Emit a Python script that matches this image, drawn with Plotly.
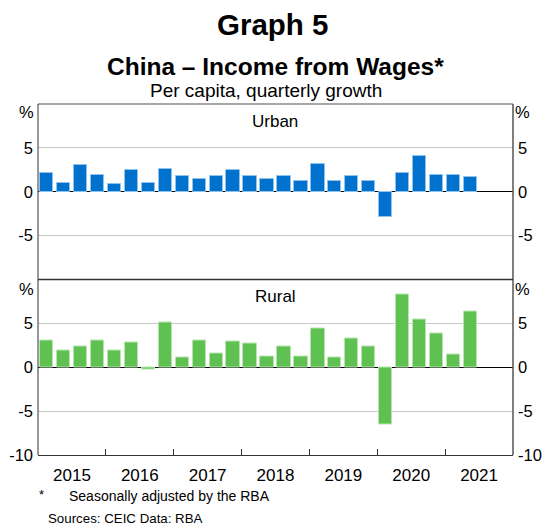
import plotly.graph_objects as go

# ---- data ----
quarters = [f"{y}Q{q}" for y in range(2015, 2022) for q in range(1, 5)][:26]
urban = [2.14, 1.03, 3.0, 1.87, 0.88, 2.48, 1.03, 2.56, 1.79, 1.49, 1.79, 2.48, 1.83,
         1.41, 1.79, 1.22, 3.2, 1.22, 1.79, 1.22, -2.86, 2.1, 4.08, 1.87, 1.91, 1.68]
rural = [3.0, 1.93, 2.42, 3.1, 1.86, 2.8, -0.27, 5.15, 1.14, 3.07, 1.55, 2.92, 2.69,
         1.17, 2.39, 1.21, 4.36, 1.1, 3.22, 2.31, -6.5, 8.26, 5.42, 3.9, 1.48, 6.33]
years = [2015, 2016, 2017, 2018, 2019, 2020, 2021]
year_labels = [str(y) for y in years]
urban_ticks = [-5, 0, 5]
urban_tick_text = ["-5", "0", "5"]
rural_ticks = [-10, -5, 0, 5]
rural_tick_text = ["-10", "-5", "0", "5"]

# quarter -> decimal year (centre of quarter)
xq = [int(q[:4]) + (int(q[-1]) - 0.5) / 4 for q in quarters]

W, H = 543, 528
L, R, T, B = 37.5, 30, 104, 73
ph = H - T - B
pw = W - L - R

def py(y):
    return (H - B - y) / ph

def px(x):
    return (x - L) / pw

BLUE = "#0072CE"
GREEN = "#5EC152"
FONT = "Liberation Sans, Arial, sans-serif"

fig = go.Figure()
fig.add_trace(go.Bar(x=xq, y=urban, xaxis="x", yaxis="y", width=0.195,
                     marker=dict(color=BLUE, line=dict(color="#8EC3EE", width=1)),
                     showlegend=False))
fig.add_trace(go.Bar(x=xq, y=rural, xaxis="x2", yaxis="y2", width=0.195,
                     marker=dict(color=GREEN, line=dict(color="#B6E6AE", width=1)),
                     showlegend=False))
# invisible traces to host right-side axes
fig.add_trace(go.Scatter(x=xq, y=urban, xaxis="x", yaxis="y3", mode="markers",
                         marker=dict(opacity=0), hoverinfo="skip", showlegend=False))
fig.add_trace(go.Scatter(x=xq, y=rural, xaxis="x2", yaxis="y4", mode="markers",
                         marker=dict(opacity=0), hoverinfo="skip", showlegend=False))

tickfont = dict(family=FONT, size=16.5, color="#000")
yc = dict(range=[-10, 10], showline=False, zeroline=True, zerolinecolor="#000",
          zerolinewidth=1, gridcolor="#C8C8C8", gridwidth=1, ticks="", fixedrange=True,
          tickfont=tickfont, ticklabelstandoff=4, automargin=False)

xrange = [years[0], years[-1] + 1]
xcommon = dict(range=xrange, showgrid=False, zeroline=False, fixedrange=True,
               automargin=False)

fig.update_layout(
    width=W, height=H,
    margin=dict(l=L, r=R, t=T, b=B, pad=0, autoexpand=False),
    paper_bgcolor="white", plot_bgcolor="white",
    bargap=0,
    xaxis=dict(**xcommon, domain=[0, 1], anchor="y", showticklabels=False, ticks=""),
    xaxis2=dict(**xcommon, domain=[0, 1], anchor="y2", matches="x",
                tickvals=[y + 0.5 for y in years], ticktext=year_labels,
                ticks="", tickfont=dict(family=FONT, size=17, color="#000"),
                ticklabelstandoff=5,
                showline=True, linecolor="#333", linewidth=1,
                minor=dict(tickvals=years[1:], ticks="inside", ticklen=6,
                           tickcolor="#333", tickwidth=1)),
    yaxis=dict(**yc, domain=[0.5, 1], anchor="x", tickvals=urban_ticks,
               ticktext=urban_tick_text, side="left"),
    yaxis3=dict(**yc, domain=[0.5, 1], anchor="x", overlaying="y", side="right",
                tickvals=urban_ticks, ticktext=urban_tick_text, showgrid=False),
    yaxis2=dict(**yc, domain=[0, 0.5], anchor="x2", tickvals=rural_ticks,
                ticktext=rural_tick_text, side="left"),
    yaxis4=dict(**yc, domain=[0, 0.5], anchor="x2", overlaying="y2", side="right",
                tickvals=rural_ticks, ticktext=rural_tick_text, showgrid=False),
)

# frame and divider
fig.add_shape(type="line", xref="paper", yref="paper", x0=0, x1=1, y0=1, y1=1,
              line=dict(color="#8a8a8a", width=1.5))
fig.add_shape(type="line", xref="paper", yref="paper", x0=0, x1=0, y0=0, y1=1,
              line=dict(color="#333", width=1))
fig.add_shape(type="line", xref="paper", yref="paper", x0=1, x1=1, y0=0, y1=1,
              line=dict(color="#555", width=1.5))
fig.add_shape(type="line", xref="paper", yref="paper", x0=0, x1=1, y0=0.5, y1=0.5,
              line=dict(color="#333", width=1.5))

def ann(text, x, y, size, bold=False, xanchor="center", color="#000"):
    if bold:
        text = f"<b>{text}</b>"
    fig.add_annotation(text=text, xref="paper", yref="paper", x=px(x), y=py(y),
                       xanchor=xanchor, yanchor="middle", showarrow=False,
                       font=dict(family=FONT, size=size, color=color))

ann("Graph 5", 272, 24, 29.5, bold=True)
ann("China – Income from Wages*", 275, 66, 24.5, bold=True)
ann("Per capita, quarterly growth", 266, 90, 19)
ann("Urban", 275, 121, 17)
ann("Rural", 275, 296, 17)
ann("%", 26, 112, 16.5)
ann("%", 523, 112, 16.5)
ann("%", 26, 289, 16.5)
ann("%", 523, 289, 16.5)
ann("*", 36, 494, 13, xanchor="left")
ann("Seasonally adjusted by the RBA", 67, 496, 14, xanchor="left")
ann("Sources: CEIC Data: RBA", 46, 518, 13.3, xanchor="left")

fig.write_html(
    "out.html",
    config={"displayModeBar": False},
    post_script="document.body.style.margin='0px';document.body.style.overflow='hidden';",
)
